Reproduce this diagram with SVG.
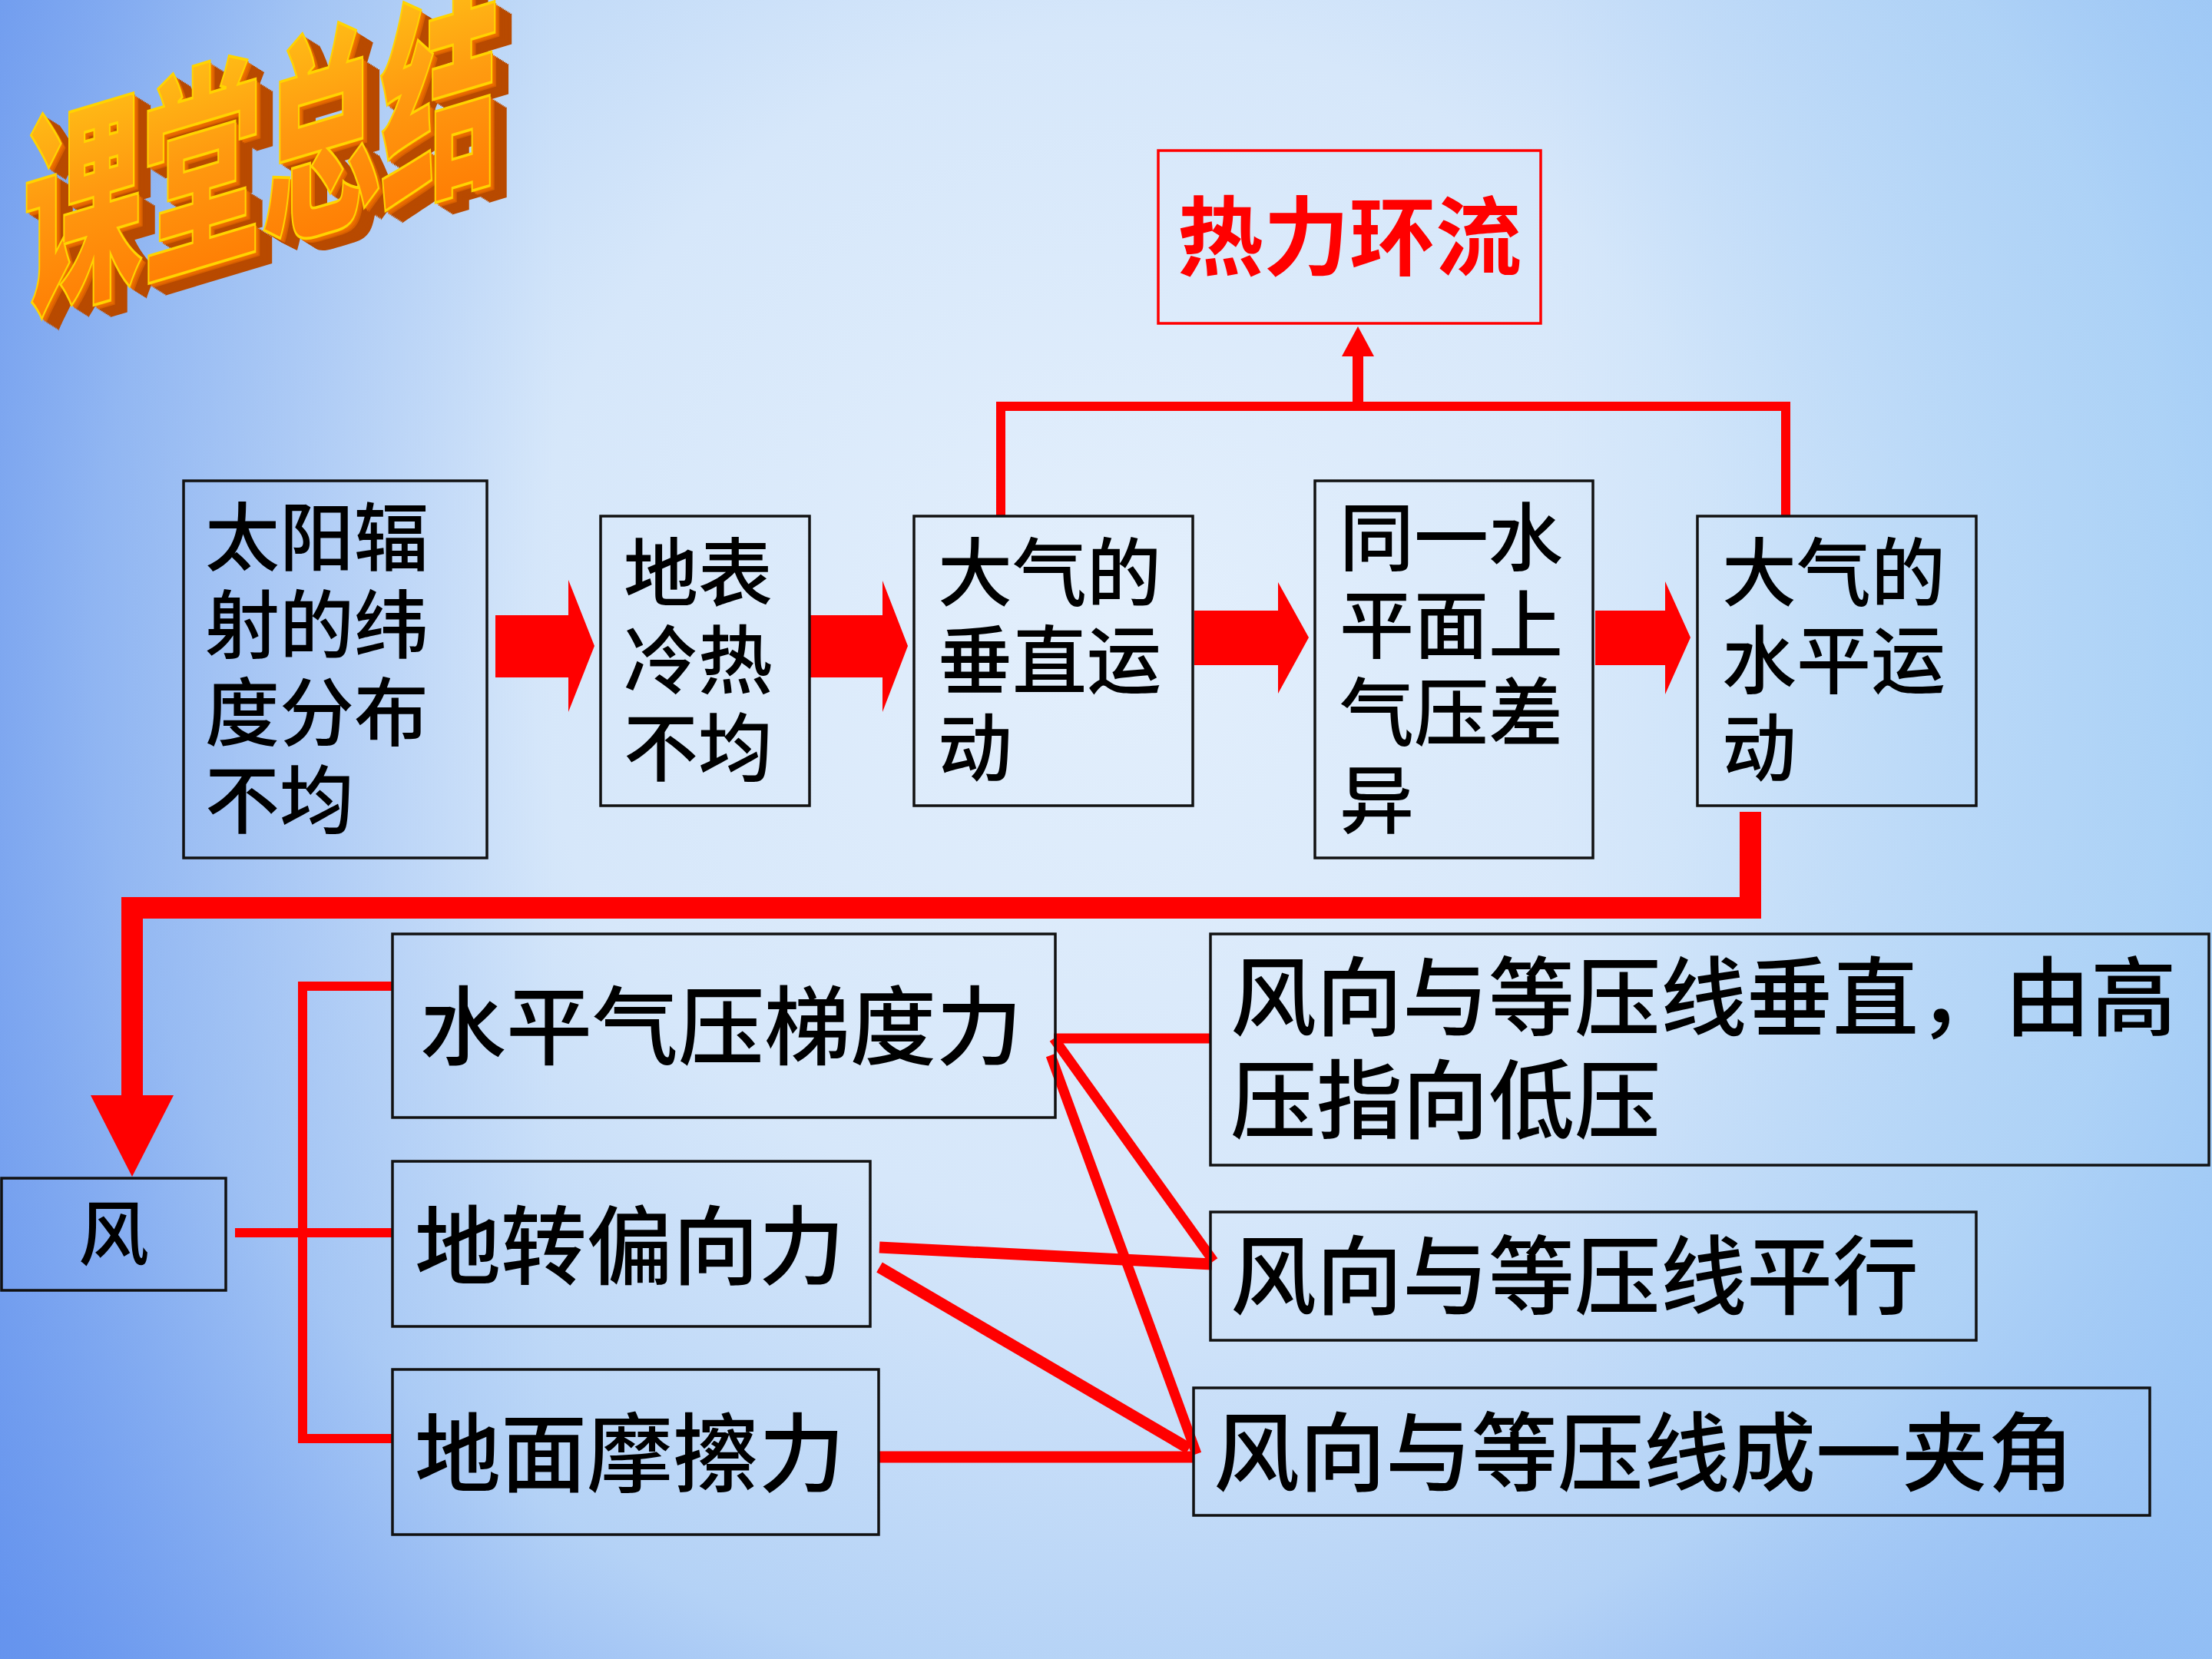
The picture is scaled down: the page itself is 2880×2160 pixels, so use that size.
<svg xmlns="http://www.w3.org/2000/svg" width="2880" height="2160" viewBox="0 0 2880 2160">
<defs>
<radialGradient id="bg" gradientUnits="userSpaceOnUse" cx="1500" cy="850" r="1950" fx="1450" fy="800">
<stop offset="0" stop-color="#e3effc"/>
<stop offset="0.4" stop-color="#d6e7fa"/>
<stop offset="0.7" stop-color="#b4d2f6"/>
<stop offset="1" stop-color="#6d9bf0"/>
</radialGradient>
<linearGradient id="leftShade" x1="0" y1="0" x2="1" y2="0">
<stop offset="0" stop-color="#5f8eec" stop-opacity="0.55"/>
<stop offset="0.25" stop-color="#7aa5f0" stop-opacity="0"/>
</linearGradient>
<linearGradient id="rightTint" x1="0" y1="0" x2="1" y2="0">
<stop offset="0.7" stop-color="#a6d2f7" stop-opacity="0"/>
<stop offset="1" stop-color="#a6d2f7" stop-opacity="0.6"/>
</linearGradient>
<linearGradient id="face" x1="0" y1="0" x2="0" y2="1">
<stop offset="0" stop-color="#ffd21a"/>
<stop offset="0.5" stop-color="#ff9a10"/>
<stop offset="1" stop-color="#ff7400"/>
</linearGradient>
<style>
.box{fill:none;stroke:#111;stroke-width:3.5}
.t{font-family:"Noto Sans CJK SC","Noto Sans CJK JP",sans-serif;fill:#000;font-weight:500}
.s97{font-size:97px}
.s112{font-size:112px}
.rl{stroke:#ff0000;fill:none;stroke-linejoin:miter;stroke-linecap:butt}
.rf{fill:#ff0000}
.ttl{font-family:"Noto Sans CJK SC",sans-serif;font-weight:800;font-size:155px}
</style>
</defs>
<rect width="2880" height="2160" fill="url(#bg)"/>
<rect width="2880" height="2160" fill="url(#leftShade)"/>
<rect width="2880" height="2160" fill="url(#rightTint)"/>

<g id="title" transform="translate(30,398) skewY(-16.7) scale(1,1.85)">
<g class="ttl" fill="#b84a00">
<text x="22" y="12">课堂总结</text>
<text x="20" y="11">课堂总结</text>
<text x="18" y="10">课堂总结</text>
<text x="16" y="9">课堂总结</text>
<text x="14" y="8">课堂总结</text>
<text x="12" y="7">课堂总结</text>
<text x="10" y="6">课堂总结</text>
<text x="8" y="5">课堂总结</text>
<text x="6" y="4" fill="#d86000">课堂总结</text>
<text x="4" y="3" fill="#e86a00">课堂总结</text>
<text x="2" y="1.5" fill="#f07800">课堂总结</text>
</g>
<text class="ttl" x="0" y="0" fill="url(#face)" stroke="#ffd400" stroke-width="2">课堂总结</text>
</g>

<g id="connectors">
<polyline class="rl" stroke-width="12" points="1303,671 1303,529 2325,529 2325,671"/>
<line class="rl" stroke-width="14" x1="1768" y1="529" x2="1768" y2="462"/>
<polygon class="rf" points="1747,464 1789,464 1768,425"/>
<polygon class="rf" points="645,801 740,801 740,755 774,841 740,927 740,882 645,882"/>
<polygon class="rf" points="1055,801 1149,801 1149,756 1182,841 1149,927 1149,882 1055,882"/>
<polygon class="rf" points="1555,795 1664,795 1664,758 1704,830 1664,903 1664,866 1555,866"/>
<polygon class="rf" points="2077,795 2168,795 2168,757 2201,830 2168,904 2168,866 2077,866"/>
<polyline class="rl" stroke-width="28" points="2279,1057 2279,1182 172,1182 172,1430"/>
<polygon class="rf" points="118,1426 226,1426 172,1532"/>
<polyline class="rl" stroke-width="12" points="510,1284 394,1284 394,1873 510,1873"/>
<line class="rl" stroke-width="12" x1="306" y1="1605" x2="510" y2="1605"/>
<line class="rl" stroke-width="13" x1="1372" y1="1352" x2="1576" y2="1352"/>
<line class="rl" stroke-width="13" x1="1372" y1="1352" x2="1580" y2="1642"/>
<line class="rl" stroke-width="13" x1="1368" y1="1374" x2="1558" y2="1893"/>
<line class="rl" stroke-width="15" x1="1145" y1="1624" x2="1578" y2="1646"/>
<line class="rl" stroke-width="15" x1="1145" y1="1650" x2="1548" y2="1886"/>
<line class="rl" stroke-width="15" x1="1145" y1="1897" x2="1553" y2="1897"/>
</g>

<g id="n-redcirc">
<rect x="1508" y="196" width="498" height="225" fill="none" stroke="#ff0000" stroke-width="3.5"/>
<text x="1757" y="350" text-anchor="middle" font-family="Noto Sans CJK SC, sans-serif" font-weight="700" font-size="112" fill="#ff0000">热力环流</text>
</g>

<g id="n-solar">
<rect class="box" x="239" y="626" width="395" height="491"/>
<text class="t s97"><tspan x="267" y="735">太阳辐</tspan><tspan x="267" y="849">射的纬</tspan><tspan x="267" y="963">度分布</tspan><tspan x="267" y="1077">不均</tspan></text>
</g>

<g id="n-surface">
<rect class="box" x="782" y="672" width="272" height="377"/>
<text class="t s97"><tspan x="812" y="781">地表</tspan><tspan x="812" y="895">冷热</tspan><tspan x="812" y="1009">不均</tspan></text>
</g>

<g id="n-vertical">
<rect class="box" x="1190" y="672" width="363" height="377"/>
<text class="t s97"><tspan x="1221" y="781">大气的</tspan><tspan x="1221" y="895">垂直运</tspan><tspan x="1221" y="1009">动</tspan></text>
</g>

<g id="n-pressure">
<rect class="box" x="1712" y="626" width="362" height="491"/>
<text class="t s97"><tspan x="1744" y="735">同一水</tspan><tspan x="1744" y="849">平面上</tspan><tspan x="1744" y="963">气压差</tspan><tspan x="1744" y="1077">异</tspan></text>
</g>

<g id="n-horizontal">
<rect class="box" x="2210" y="672" width="363" height="377"/>
<text class="t s97"><tspan x="2242" y="781">大气的</tspan><tspan x="2242" y="895">水平运</tspan><tspan x="2242" y="1009">动</tspan></text>
</g>

<g id="n-wind">
<rect class="box" x="2" y="1534" width="292" height="146"/>
<text class="t" x="148" y="1640" font-size="92" text-anchor="middle">风</text>
</g>

<g id="n-pgf">
<rect class="box" x="511" y="1216" width="863" height="239"/>
<text class="t s112" x="547" y="1378">水平气压梯度力</text>
</g>

<g id="n-coriolis">
<rect class="box" x="511" y="1512" width="622" height="215"/>
<text class="t s112" x="540" y="1664">地转偏向力</text>
</g>

<g id="n-friction">
<rect class="box" x="511" y="1783" width="633" height="215"/>
<text class="t s112" x="540" y="1934">地面摩擦力</text>
</g>

<g id="n-perp">
<rect class="box" x="1576" y="1216" width="1300" height="301"/>
<text class="t s112"><tspan x="1602" y="1340">风向与等压线垂直，由高</tspan><tspan x="1602" y="1474">压指向低压</tspan></text>
</g>

<g id="n-parallel">
<rect class="box" x="1576" y="1578" width="997" height="167"/>
<text class="t s112" x="1602" y="1703">风向与等压线平行</text>
</g>

<g id="n-angle">
<rect class="box" x="1554" y="1807" width="1245" height="166"/>
<text class="t s112" x="1580" y="1933" textLength="1120" lengthAdjust="spacing">风向与等压线成一夹角</text>
</g>
</svg>
